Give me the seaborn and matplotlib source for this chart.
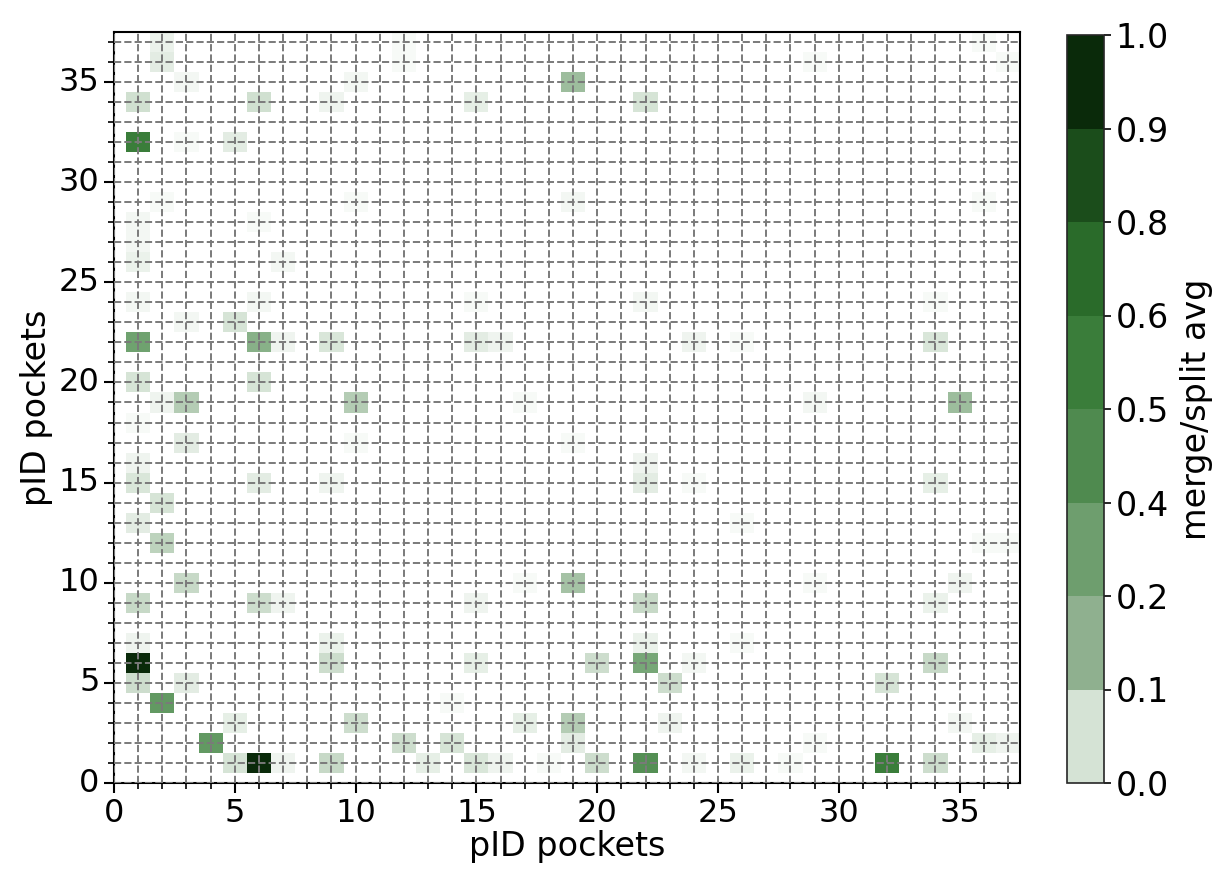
import numpy as np
import pandas as pd
import matplotlib
matplotlib.use("Agg")
import matplotlib.pyplot as plt
import seaborn as sns
from matplotlib.colors import LinearSegmentedColormap, ListedColormap, BoundaryNorm
from matplotlib.cm import ScalarMappable

# ---------------- data ----------------
n_pockets = 38
pockets = list(range(n_pockets))

# non-zero cells: x pocket, y pocket, merge/split average
cell_x = [2, 2, 3, 1, 6, 9, 10, 12, 12, 1, 5, 3, 2, 1, 1, 6, 10, 1, 7, 1, 6, 3, 5, 1, 6, 7, 9, 1, 6, 2, 3, 10,
          19, 15, 22, 19, 22, 15, 15, 16, 24,
          36, 37, 29, 36, 34, 34, 35, 29, 26,
          1, 3, 10, 1, 1, 6, 9, 2, 1, 2, 3, 1, 6, 7, 1, 9, 9, 1, 1, 3, 2, 5, 10, 4, 12, 5, 6, 7, 9, 13,
          17, 19, 22, 22, 24, 17, 19, 15, 22, 22, 15, 20, 22, 24, 23, 14, 17, 19, 19, 23, 14, 15, 16, 18, 20, 22, 24,
          34, 26, 36, 37, 29, 35, 34, 26, 34, 32, 35, 36, 37, 29, 26, 28, 32, 34]
cell_y = [37, 36, 35, 34, 34, 34, 35, 36, 37, 32, 32, 32, 29, 28, 27, 28, 29, 26, 26, 24, 24, 23, 23, 22, 22, 22, 22, 20, 20, 19, 19, 19,
          35, 34, 34, 29, 24, 24, 22, 22, 22,
          37, 36, 36, 29, 24, 22, 19, 19, 22,
          18, 17, 17, 16, 15, 15, 15, 14, 13, 12, 10, 9, 9, 9, 7, 7, 6, 6, 5, 5, 4, 3, 3, 2, 2, 1, 1, 1, 1, 1,
          19, 17, 16, 15, 15, 10, 10, 9, 9, 7, 6, 6, 6, 6, 5, 4, 3, 3, 2, 3, 2, 1, 1, 1, 1, 1, 1,
          15, 13, 12, 12, 10, 10, 9, 7, 6, 5, 3, 2, 2, 2, 1, 1, 1, 1]
cell_v = [0.05, 0.07, 0.03, 0.11, 0.11, 0.04, 0.03, 0.02, 0.02, 0.55, 0.07, 0.02, 0.02, 0.03, 0.03, 0.02, 0.02, 0.05, 0.03, 0.03, 0.03, 0.03, 0.10, 0.35, 0.27, 0.04, 0.09, 0.10, 0.10, 0.04, 0.17, 0.17,
          0.22, 0.06, 0.10, 0.03, 0.03, 0.02, 0.07, 0.04, 0.04,
          0.02, 0.02, 0.02, 0.02, 0.02, 0.09, 0.22, 0.03, 0.02,
          0.02, 0.07, 0.02, 0.04, 0.09, 0.07, 0.04, 0.10, 0.07, 0.15, 0.13, 0.13, 0.12, 0.04, 0.04, 0.05, 0.12, 1.00, 0.12, 0.07, 0.40, 0.06, 0.12, 0.40, 0.12, 0.10, 1.00, 0.04, 0.13, 0.06,
          0.02, 0.02, 0.04, 0.07, 0.02, 0.02, 0.20, 0.04, 0.13, 0.05, 0.06, 0.12, 0.32, 0.03, 0.12, 0.02, 0.06, 0.17, 0.07, 0.04, 0.10, 0.09, 0.04, 0.02, 0.12, 0.45, 0.03,
          0.06, 0.02, 0.02, 0.02, 0.02, 0.04, 0.05, 0.02, 0.13, 0.10, 0.03, 0.06, 0.04, 0.02, 0.05, 0.02, 0.55, 0.12]

cbar_bounds = [0.0, 0.125, 0.25, 0.375, 0.5, 0.625, 0.75, 0.875, 1.0]
cbar_labels = ["0.0", "0.1", "0.2", "0.4", "0.5", "0.6", "0.8", "0.9", "1.0"]
major_ticks = [0, 5, 10, 15, 20, 25, 30, 35]

# ---------------- styling ----------------
band_colors = ["#d5e3d5", "#8fb08f", "#6e9e6e", "#4f8a4f", "#3a7d3a", "#2a6b2a", "#1b4d1b", "#0a2a0a"]
heat_cmap = LinearSegmentedColormap.from_list(
    "greens_custom",
    [(0.0, "#ffffff"), (0.1, "#d5e3d5"), (0.2, "#a5c2a5"), (0.3, "#7caa7c"),
     (0.4, "#629962"), (0.55, "#3a7d3a"), (0.75, "#1f5a1f"), (1.0, "#0a2a0a")])

mat = np.zeros((n_pockets, n_pockets))
for x, y, v in zip(cell_x, cell_y, cell_v):
    mat[y, x] = v
df = pd.DataFrame(mat, index=pockets, columns=pockets)

sns.set_style("white")
plt.rcParams["font.family"] = ["DejaVu Sans"]
plt.rcParams["text.color"] = "black"
plt.rcParams["axes.labelcolor"] = "black"
plt.rcParams["xtick.color"] = "black"
plt.rcParams["ytick.color"] = "black"

fig = plt.figure(figsize=(12.2, 8.84), dpi=100)
ax = fig.add_axes([114 / 1220, 1 - 783 / 884, (1020 - 114) / 1220, (783 - 32) / 884])
cax = fig.add_axes([1067 / 1220, 1 - 783 / 884, 37 / 1220, (783 - 35) / 884])

sns.heatmap(df, ax=ax, cmap=heat_cmap, vmin=0, vmax=1, cbar=False, linewidths=0)

ax.set_xlim(0.5, n_pockets)
ax.set_ylim(0.5, n_pockets)
ax.set_xticks([t + 0.5 for t in major_ticks])
ax.set_xticklabels([str(t) for t in major_ticks], rotation=0)
ax.set_yticks([t + 0.5 for t in major_ticks])
ax.set_yticklabels([str(t) for t in major_ticks], rotation=0)
ax.set_xticks([p + 0.5 for p in pockets], minor=True)
ax.set_yticks([p + 0.5 for p in pockets], minor=True)
ax.tick_params(which="major", direction="out", length=7, width=1.5, labelsize=23,
               bottom=True, left=True, color="black", labelcolor="black")
ax.tick_params(which="minor", direction="out", length=4, width=1.2,
               bottom=True, left=True, color="black")
ax.grid(True, which="both", color="#7a7a7a", linestyle="--", linewidth=1.4)
ax.set_axisbelow(False)
for s in ax.spines.values():
    s.set_visible(True)
    s.set_color("black")
    s.set_linewidth(1.5)
ax.set_xlabel("pID pockets", fontsize=24, labelpad=1, color="black")
ax.set_ylabel("pID pockets", fontsize=24, labelpad=4, color="black")

sm = ScalarMappable(norm=BoundaryNorm(cbar_bounds, len(band_colors)), cmap=ListedColormap(band_colors))
cb = fig.colorbar(sm, cax=cax, ticks=cbar_bounds, spacing="uniform")
cb.ax.set_yticklabels(cbar_labels)
cb.ax.tick_params(labelsize=24, length=5, width=1.2, color="black", labelcolor="black")
cb.outline.set_linewidth(1.2)
cb.set_label("merge/split avg", fontsize=24, labelpad=8, color="black")

fig.savefig("out.png", dpi=100)
